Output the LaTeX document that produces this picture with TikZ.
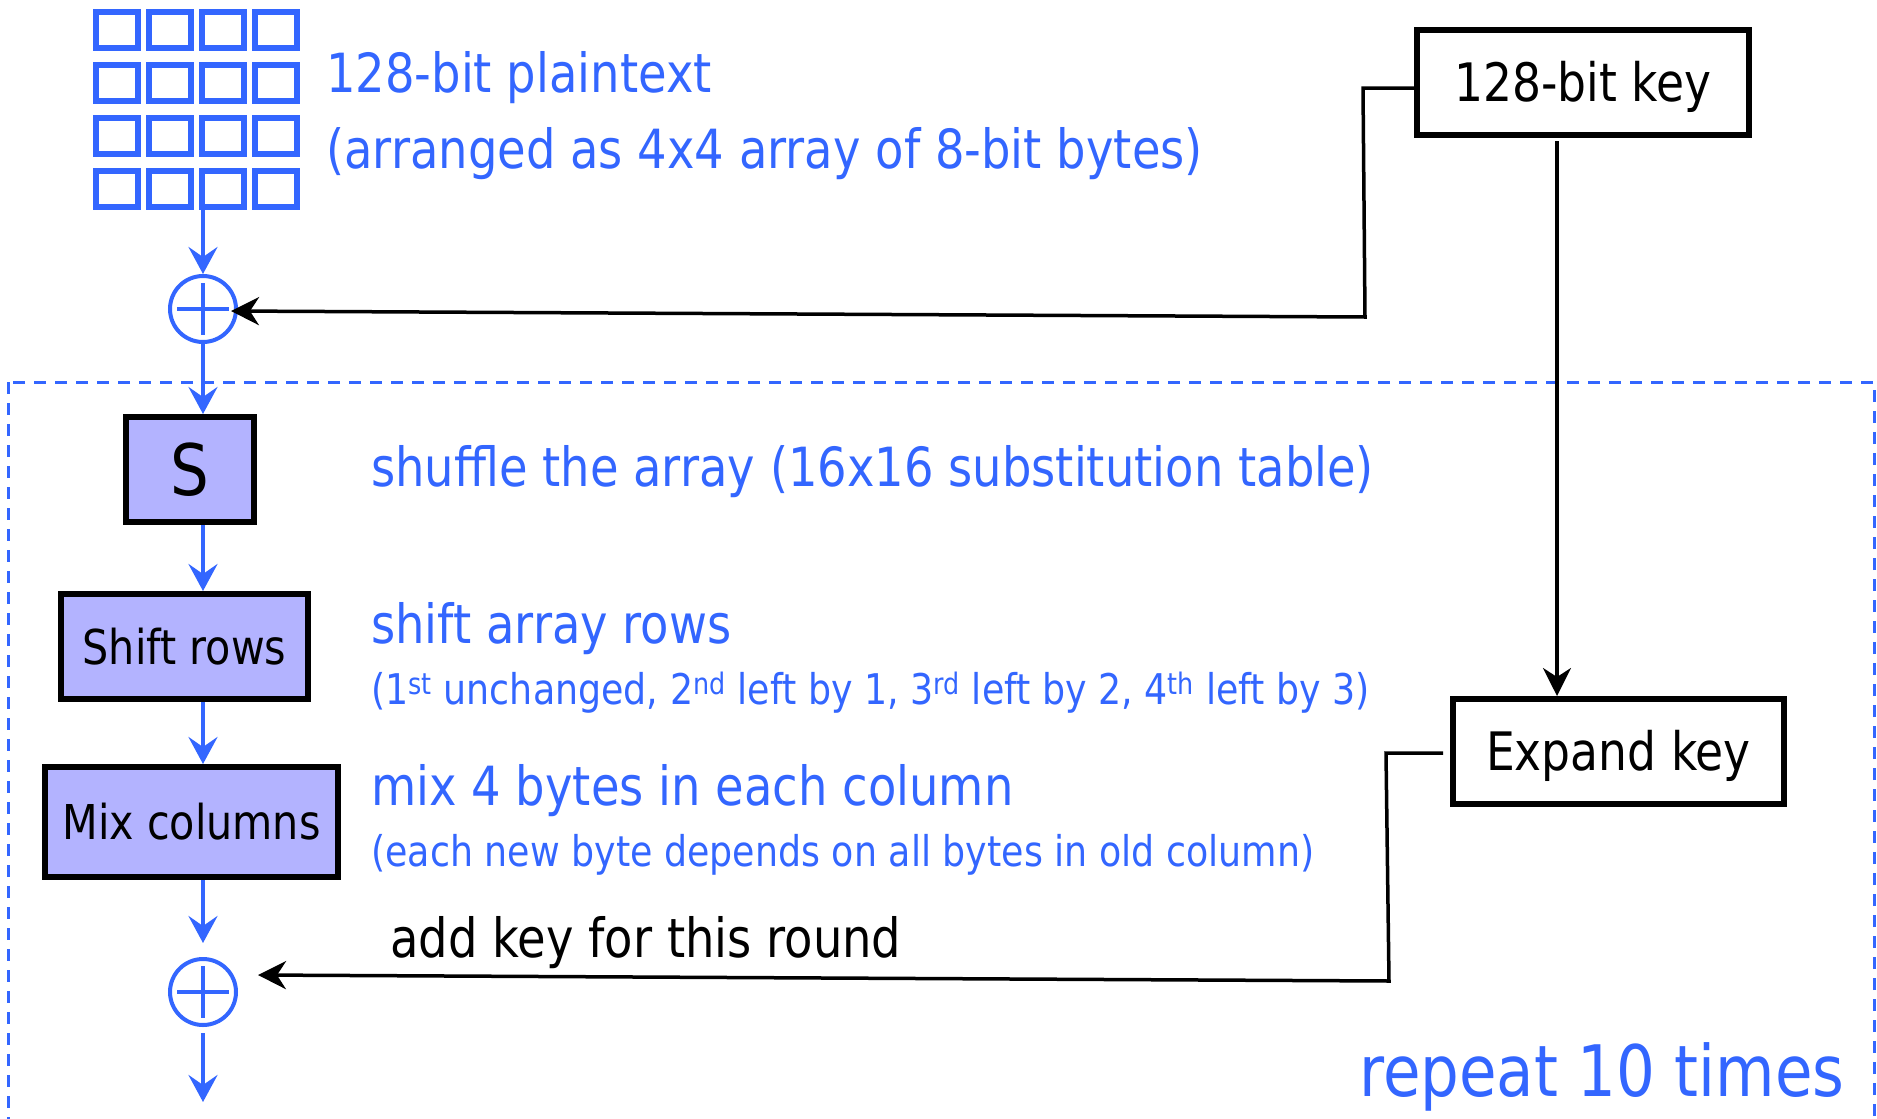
\documentclass[tikz,border=0pt]{standalone}
\usepackage{fontspec}
\setmainfont{DejaVu Sans}[FakeStretch=0.86]
\usepackage{tikz}
\usetikzlibrary{arrows.meta}
\definecolor{aesblue}{RGB}{51,102,255}
\definecolor{stagefill}{RGB}{179,179,255}

\begin{document}
\begin{tikzpicture}[x=1pt, y=-1pt,
    flow/.style={-{Stealth[length=27pt,width=29pt,inset=10pt]}, line width=4pt, aesblue},
    keyflow/.style={-{Stealth[length=28pt,width=28pt,inset=9pt]}, line width=3.5pt, black},
    stage/.style={draw, line width=6pt, fill=stagefill, minimum height=105pt, inner sep=0pt,
      font=\fontsize{48}{56}\selectfont},
    keybox/.style={draw, line width=6pt, fill=white, minimum height=105pt, inner sep=0pt,
      text height=38pt, text depth=0pt, font=\fontsize{53}{60}\selectfont},
    xorop/.style={circle, draw=aesblue, line width=4pt, minimum size=66pt, inner sep=0pt,
      path picture={
        \draw[aesblue, line width=4pt, shorten <=7pt, shorten >=7pt]
          (path picture bounding box.west) -- (path picture bounding box.east);
        \draw[aesblue, line width=4pt, shorten <=7pt, shorten >=7pt]
          (path picture bounding box.north) -- (path picture bounding box.south);}},
    note/.style={anchor=base west, inner sep=0pt, text=aesblue, font=\fontsize{54}{60}\selectfont},
    smallnote/.style={note, font=\fontsize{42.3}{48}\selectfont}]
  \useasboundingbox (0,0) rectangle (1877,1119);
  \clip (0,0) rectangle (1877,1119);

  % one round
  \draw[aesblue, line width=3pt, dash pattern=on 12pt off 9pt] (8,382) rectangle (1874,1160);

  % 4x4 state
  \foreach \i in {0,...,3}
    \foreach \j in {0,...,3}
      \draw[aesblue, line width=6pt] (96+53*\i, 12+53*\j) rectangle +(42,36);
  \node[inner sep=0pt, minimum width=206pt, minimum height=200pt] (plain) at (196,109) {};

  \node[note] (ptlabel) at (326,92) {128-bit plaintext};
  \node[note] (ptsub) at (326,168) {(arranged as 4x4 array of 8-bit bytes)};

  \node[xorop] (xin) at (203,309) {};
  \node[stage, minimum width=128pt, font=\fontsize{71}{80}\selectfont] (sub) at (190,469.5) {S};
  \node[stage, minimum width=247pt] (shift) at (184.5,646.5) {Shift rows};
  \node[stage, minimum width=293pt, minimum height=110pt] (mix) at (191.5,822) {Mix columns};
  \node[xorop] (xout) at (203,992) {};
  \coordinate (out) at (203,1102);

  \draw[flow] (xin |- plain.south) -- (xin.north);
  \draw[flow] (xin.south) -- (xin.south |- sub.north);
  \draw[flow] (sub.south -| xin) -- (xin |- shift.north);
  \draw[flow] (shift.south -| xin) -- (xin |- mix.north);
  \draw[flow, shorten >=14pt] (mix.south -| xout) -- (xout.north);
  \draw[flow, shorten <=6pt] (xout.south) -- (out);

  \node[note] (sublabel) at (371,486) {shuffle the array (16x16 substitution table)};
  \node[note] (shiftlabel) at (371,643) {shift array rows};
  \node[smallnote] (shiftsub) at (371,704) {(1\textsuperscript{st} unchanged, 2\textsuperscript{nd} left by 1, 3\textsuperscript{rd} left by 2, 4\textsuperscript{th} left by 3)};
  \node[note] (mixlabel) at (371,805) {mix 4 bytes in each column};
  \node[smallnote] (mixsub) at (371,866) {(each new byte depends on all bytes in old column)};
  \node[note, text=black] (addlabel) at (390,957) {add key for this round};
  \node[note, font=\fontsize{71}{80}\selectfont] (repeat) at (1359,1096) {repeat 10 times};

  % key schedule
  \node[keybox, minimum width=332pt] (key) at (1583,82.5) {128-bit key};
  \node[keybox, minimum width=331pt] (expand) at (1618.5,751.5) {Expand key};

  \coordinate (k1) at (1363,88);
  \coordinate (k2) at (1365,317);
  \draw[keyflow] (key.west |- k1) -- (k1) -- (k2) -- ([shift={(-7,2)}]xin.east);

  \coordinate (kdown) at (1557,141);
  \draw[keyflow] (kdown) -- (kdown |- expand.north);

  \coordinate (e0) at (1443,753);
  \coordinate (e1) at (1386,753);
  \coordinate (e2) at (1389,981);
  \draw[keyflow] (e0) -- (e1) -- (e2) -- ([shift={(20,-17)}]xout.east);
\end{tikzpicture}
\end{document}
